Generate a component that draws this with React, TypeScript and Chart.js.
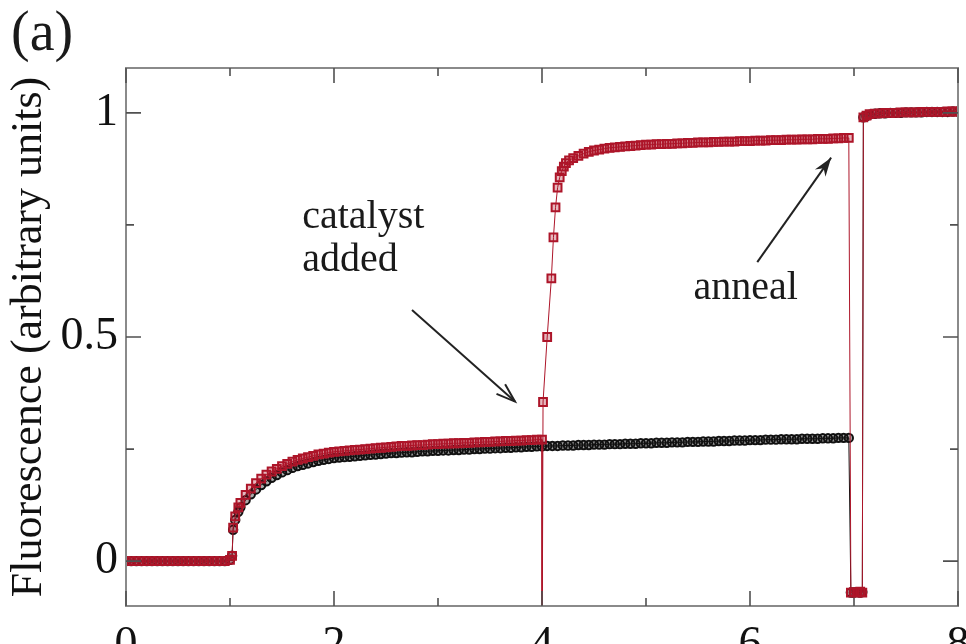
import { useEffect, useRef } from "react";
import { Chart, registerables } from "chart.js";

Chart.register(...registerables);

// ---------- data ----------
const redTime = [
  0, 0.05, 0.1, 0.15, 0.2, 0.25, 0.3, 0.35, 0.4, 0.45, 0.5, 0.55, 0.6, 0.65, 0.7, 0.75, 0.8, 0.85, 0.9, 0.95, 1.0,
  1.02, 1.03, 1.05, 1.08, 1.1, 1.15, 1.2, 1.25, 1.3, 1.35, 1.4, 1.45, 1.5, 1.55, 1.6, 1.65, 1.7, 1.75, 1.8, 1.85, 1.9, 1.95, 2.0,
  2.05, 2.1, 2.15, 2.2, 2.25, 2.3, 2.35, 2.4, 2.45, 2.5, 2.55, 2.6, 2.65, 2.7, 2.75, 2.8, 2.85, 2.9, 2.95, 3.0,
  3.05, 3.1, 3.15, 3.2, 3.25, 3.3, 3.35, 3.4, 3.45, 3.5, 3.55, 3.6, 3.65, 3.7, 3.75, 3.8, 3.85, 3.9, 3.95,
  4.0, 4.0, 4.01, 4.05, 4.09, 4.11, 4.13, 4.15, 4.17, 4.19, 4.21, 4.23, 4.26, 4.3, 4.35, 4.4, 4.45, 4.5,
  4.55, 4.6, 4.65, 4.7, 4.75, 4.8, 4.85, 4.9, 4.95, 5.0,
  5.05, 5.1, 5.15, 5.2, 5.25, 5.3, 5.35, 5.4, 5.45, 5.5,
  5.55, 5.6, 5.65, 5.7, 5.75, 5.8, 5.85, 5.9, 5.95, 6.0,
  6.05, 6.1, 6.15, 6.2, 6.25, 6.3, 6.35, 6.4, 6.45, 6.5,
  6.55, 6.6, 6.65, 6.7, 6.75, 6.8, 6.85, 6.9, 6.95,
  6.97, 7.0, 7.03, 7.06, 7.08,
  7.09, 7.12, 7.15,
  7.2, 7.25, 7.3, 7.35, 7.4, 7.45, 7.5, 7.55, 7.6, 7.65, 7.7, 7.75, 7.8, 7.85, 7.9, 7.95, 8.0,
];
const redSignal = [
  0, 0, 0, 0, 0, 0, 0, 0, 0, 0, 0, 0, 0, 0, 0, 0, 0, 0, 0, 0, 0.003,
  0.012, 0.075, 0.1, 0.12, 0.13, 0.148, 0.162, 0.174, 0.184, 0.193, 0.2, 0.206, 0.212, 0.217, 0.222, 0.226, 0.229, 0.232, 0.235, 0.238, 0.24, 0.242, 0.244,
  0.245, 0.246, 0.247, 0.248, 0.249, 0.25, 0.251, 0.252, 0.253, 0.254, 0.255, 0.256, 0.257, 0.257, 0.258, 0.259, 0.259, 0.26, 0.261, 0.261,
  0.262, 0.262, 0.263, 0.263, 0.264, 0.264, 0.265, 0.265, 0.266, 0.266, 0.267, 0.267, 0.268, 0.268, 0.269, 0.269, 0.27, 0.27, 0.271,
  0.271, -0.3, 0.355, 0.5, 0.631, 0.722, 0.789, 0.833, 0.856, 0.87, 0.88, 0.888, 0.894, 0.899, 0.904, 0.909, 0.913, 0.916,
  0.918, 0.92, 0.922, 0.923, 0.924, 0.925, 0.926, 0.927, 0.928, 0.929,
  0.929, 0.93, 0.93, 0.931, 0.931, 0.932, 0.932, 0.933, 0.933, 0.934,
  0.934, 0.934, 0.935, 0.935, 0.936, 0.936, 0.936, 0.937, 0.937, 0.937,
  0.938, 0.938, 0.938, 0.939, 0.939, 0.939, 0.94, 0.94, 0.94, 0.941,
  0.941, 0.941, 0.942, 0.942, 0.942, 0.943, 0.943, 0.944, 0.944,
  -0.07, -0.069, -0.07, -0.068, -0.07,
  0.99, 0.994, 0.997,
  0.998, 0.999, 1.0, 1.0, 1.0, 1.001, 1.001, 1.001, 1.001, 1.002, 1.002, 1.002, 1.002, 1.002, 1.003, 1.003, 1.003,
];

const blackTime = [
  0, 0.05, 0.1, 0.15, 0.2, 0.25, 0.3, 0.35, 0.4, 0.45, 0.5, 0.55, 0.6, 0.65, 0.7, 0.75, 0.8, 0.85, 0.9, 0.95, 1.0,
  1.02, 1.03, 1.05, 1.08, 1.1, 1.15, 1.2, 1.25, 1.3, 1.35, 1.4, 1.45, 1.5, 1.55, 1.6, 1.65, 1.7, 1.75, 1.8, 1.85, 1.9, 1.95, 2.0,
  2.05, 2.1, 2.15, 2.2, 2.25, 2.3, 2.35, 2.4, 2.45, 2.5,
  2.55, 2.6, 2.65, 2.7, 2.75, 2.8, 2.85, 2.9, 2.95, 3.0,
  3.05, 3.1, 3.15, 3.2, 3.25, 3.3, 3.35, 3.4, 3.45, 3.5,
  3.55, 3.6, 3.65, 3.7, 3.75, 3.8, 3.85, 3.9, 3.95, 4.0,
  4.05, 4.1, 4.15, 4.2, 4.25, 4.3, 4.35, 4.4, 4.45, 4.5,
  4.55, 4.6, 4.65, 4.7, 4.75, 4.8, 4.85, 4.9, 4.95, 5.0,
  5.05, 5.1, 5.15, 5.2, 5.25, 5.3, 5.35, 5.4, 5.45, 5.5,
  5.55, 5.6, 5.65, 5.7, 5.75, 5.8, 5.85, 5.9, 5.95, 6.0,
  6.05, 6.1, 6.15, 6.2, 6.25, 6.3, 6.35, 6.4, 6.45, 6.5,
  6.55, 6.6, 6.65, 6.7, 6.75, 6.8, 6.85, 6.9, 6.95,
  6.97, 7.0, 7.03, 7.06, 7.08,
  7.09, 7.12, 7.15,
  7.2, 7.25, 7.3, 7.35, 7.4, 7.45, 7.5, 7.55, 7.6, 7.65, 7.7, 7.75, 7.8, 7.85, 7.9, 7.95, 8.0,
];
const blackSignal = [
  0, 0, 0, 0, 0, 0, 0, 0, 0, 0, 0, 0, 0, 0, 0, 0, 0, 0, 0, 0, 0.003,
  0.012, 0.07, 0.092, 0.11, 0.12, 0.136, 0.149, 0.16, 0.17, 0.178, 0.186, 0.192, 0.198, 0.203, 0.208, 0.212, 0.215, 0.218, 0.221, 0.224, 0.226, 0.228, 0.23,
  0.231, 0.232, 0.233, 0.234, 0.235, 0.236, 0.237, 0.238, 0.239, 0.24,
  0.241, 0.241, 0.242, 0.243, 0.243, 0.244, 0.245, 0.245, 0.246, 0.246,
  0.247, 0.247, 0.248, 0.248, 0.249, 0.249, 0.25, 0.25, 0.251, 0.251,
  0.252, 0.252, 0.253, 0.253, 0.254, 0.254, 0.255, 0.255, 0.256, 0.256,
  0.257, 0.257, 0.257, 0.258, 0.258, 0.258, 0.259, 0.259, 0.259, 0.26,
  0.26, 0.26, 0.261, 0.261, 0.261, 0.262, 0.262, 0.262, 0.263, 0.263,
  0.263, 0.264, 0.264, 0.264, 0.265, 0.265, 0.265, 0.266, 0.266, 0.266,
  0.267, 0.267, 0.267, 0.268, 0.268, 0.268, 0.269, 0.269, 0.269, 0.27,
  0.27, 0.27, 0.271, 0.271, 0.271, 0.272, 0.272, 0.272, 0.272, 0.273,
  0.273, 0.273, 0.273, 0.274, 0.274, 0.274, 0.275, 0.275, 0.275,
  -0.07, -0.07, -0.069, -0.07, -0.069,
  0.99, 0.993, 0.996,
  0.998, 0.999, 0.999, 1.0, 1.0, 1.0, 1.001, 1.001, 1.001, 1.001, 1.002, 1.002, 1.002, 1.002, 1.002, 1.003, 1.003,
];

const xMajorTicks = [0, 2, 4, 6, 8];
const xMinorTicks = [1, 3, 5, 7];
const yMajorTicks = [0, 0.5, 1];
const yMinorTicks = [0.25, 0.75];

const yTitle = "Fluorescence (arbitrary units)";
const panelLabel = "(a)";
const catalystLines = ["catalyst", "added"];
const annealText = "anneal";

// annotation anchors in data units
const catalystTextAt = [1.694, 0.744, 0.647]; // x, baseline line1, baseline line2
const catalystArrow = [2.75, 0.56, 3.74, 0.356];
const annealTextAt = [5.457, 0.585];
const annealArrow = [6.07, 0.667, 6.78, 0.9];

const SERIF = '"Liberation Serif", "DejaVu Serif", "Times New Roman", serif';
const RED = "#ad1529";

function drawArrow(ctx: CanvasRenderingContext2D, x1: number, y1: number, x2: number, y2: number, filled: boolean) {
  ctx.beginPath();
  ctx.moveTo(x1, y1);
  ctx.lineTo(x2, y2);
  ctx.stroke();
  const ang = Math.atan2(y2 - y1, x2 - x1);
  const L = 20;
  const w = 0.33;
  const ax = x2 - L * Math.cos(ang - w);
  const ay = y2 - L * Math.sin(ang - w);
  const bx = x2 - L * Math.cos(ang + w);
  const by = y2 - L * Math.sin(ang + w);
  ctx.beginPath();
  if (filled) {
    const nx = x2 - 0.65 * L * Math.cos(ang);
    const ny = y2 - 0.65 * L * Math.sin(ang);
    ctx.moveTo(ax, ay);
    ctx.lineTo(x2, y2);
    ctx.lineTo(bx, by);
    ctx.lineTo(nx, ny);
    ctx.closePath();
    ctx.fill();
  } else {
    ctx.moveTo(ax, ay);
    ctx.lineTo(x2, y2);
    ctx.lineTo(bx, by);
    ctx.stroke();
  }
}

const decorPlugin = {
  id: "decor",
  afterDatasetsDraw(chart: any) {
    const { ctx, chartArea: a, scales } = chart;
    const xs = scales.x;
    const ys = scales.y;
    ctx.save();
    // frame
    ctx.strokeStyle = "#8a8a8a";
    ctx.lineWidth = 2;
    ctx.strokeRect(a.left, a.top, a.right - a.left, a.bottom - a.top);
    // ticks (inward, all four sides)
    ctx.strokeStyle = "#505050";
    ctx.lineWidth = 1.6;
    const xt = (v: number, len: number) => {
      const px = xs.getPixelForValue(v);
      ctx.beginPath();
      ctx.moveTo(px, a.bottom);
      ctx.lineTo(px, a.bottom - len);
      ctx.moveTo(px, a.top);
      ctx.lineTo(px, a.top + len);
      ctx.stroke();
    };
    const yt = (v: number, len: number) => {
      const py = ys.getPixelForValue(v);
      ctx.beginPath();
      ctx.moveTo(a.left, py);
      ctx.lineTo(a.left + len, py);
      ctx.moveTo(a.right, py);
      ctx.lineTo(a.right - len, py);
      ctx.stroke();
    };
    xMajorTicks.forEach((v) => xt(v, 15));
    xMinorTicks.forEach((v) => xt(v, 8));
    yMajorTicks.forEach((v) => yt(v, 15));
    yMinorTicks.forEach((v) => yt(v, 8));

    // annotations
    ctx.fillStyle = "#1a1a1a";
    ctx.textAlign = "left";
    ctx.textBaseline = "alphabetic";
    ctx.font = `40px ${SERIF}`;
    const cx = xs.getPixelForValue(catalystTextAt[0]);
    ctx.fillText(catalystLines[0], cx, ys.getPixelForValue(catalystTextAt[1]));
    ctx.fillText(catalystLines[1], cx, ys.getPixelForValue(catalystTextAt[2]));
    ctx.fillText(annealText, xs.getPixelForValue(annealTextAt[0]), ys.getPixelForValue(annealTextAt[1]));

    ctx.strokeStyle = "#222";
    ctx.fillStyle = "#222";
    ctx.lineWidth = 2;
    drawArrow(
      ctx,
      xs.getPixelForValue(catalystArrow[0]),
      ys.getPixelForValue(catalystArrow[1]),
      xs.getPixelForValue(catalystArrow[2]),
      ys.getPixelForValue(catalystArrow[3]),
      false
    );
    drawArrow(
      ctx,
      xs.getPixelForValue(annealArrow[0]),
      ys.getPixelForValue(annealArrow[1]),
      xs.getPixelForValue(annealArrow[2]),
      ys.getPixelForValue(annealArrow[3]),
      true
    );

    // panel label
    ctx.fillStyle = "#1a1a1a";
    ctx.font = `56px ${SERIF}`;
    ctx.fillText(panelLabel, 11, 50);
    ctx.restore();
  },
};

export default function App() {
  const ref = useRef<HTMLCanvasElement | null>(null);

  useEffect(() => {
    const canvas = ref.current;
    if (!canvas) return;
    const redPts = redTime.map((t, i) => ({ x: t, y: redSignal[i] }));
    const blackPts = blackTime.map((t, i) => ({ x: t, y: blackSignal[i] }));
    const chart = new Chart(canvas, {
      type: "line",
      data: {
        datasets: [
          {
            label: "with catalyst",
            data: redPts,
            borderColor: RED,
            borderWidth: 1,
            pointStyle: "rect",
            pointRadius: 5.5,
            pointBorderWidth: 2,
            pointBorderColor: RED,
            pointBackgroundColor: "rgba(173,21,41,0.3)",
            tension: 0,
          },
          {
            label: "control",
            data: blackPts,
            borderColor: "#111",
            borderWidth: 1,
            pointStyle: "circle",
            pointRadius: 4.2,
            pointBorderWidth: 2,
            pointBorderColor: "#111",
            pointBackgroundColor: "rgba(17,17,17,0.35)",
            tension: 0,
          },
        ],
      },
      options: {
        animation: false,
        responsive: false,
        devicePixelRatio: 1,
        parsing: false as any,
        layout: { padding: { top: 68, right: 8, left: 0, bottom: 0 } },
        plugins: { legend: { display: false }, tooltip: { enabled: false } },
        scales: {
          x: {
            type: "linear",
            min: 0,
            max: 8,
            grid: { display: false, drawTicks: false },
            border: { display: false },
            afterBuildTicks: (s: any) => {
              s.ticks = xMajorTicks.map((v) => ({ value: v }));
            },
            afterFit: (s: any) => {
              s.height = 38;
              s.paddingLeft = 0;
              s.paddingRight = 0;
            },
            ticks: {
              font: { family: SERIF, size: 46 },
              color: "#111",
              padding: 12,
              maxRotation: 0,
              autoSkip: false,
              callback: (v: any) => String(v),
            },
          },
          y: {
            type: "linear",
            min: -0.1,
            max: 1.1,
            grid: { display: false, drawTicks: false },
            border: { display: false },
            afterBuildTicks: (s: any) => {
              s.ticks = yMajorTicks.map((v) => ({ value: v }));
            },
            afterFit: (s: any) => {
              s.width = 126;
              s.paddingTop = 0;
              s.paddingBottom = 0;
            },
            title: {
              display: true,
              text: yTitle,
              font: { family: SERIF, size: 44 },
              color: "#111",
              padding: { top: 3, bottom: 0 },
            },
            ticks: {
              font: { family: SERIF, size: 46 },
              color: "#111",
              padding: 8,
              callback: (v: any) => String(v),
            },
          },
        },
      },
      plugins: [decorPlugin],
    } as any);
    return () => chart.destroy();
  }, []);

  return (
    <div style={{ position: "fixed", left: 0, top: 0, width: 966, height: 644, background: "#fff", overflow: "hidden" }}>
      <canvas ref={ref} width={966} height={644} style={{ display: "block", width: 966, height: 644 }} />
    </div>
  );
}
